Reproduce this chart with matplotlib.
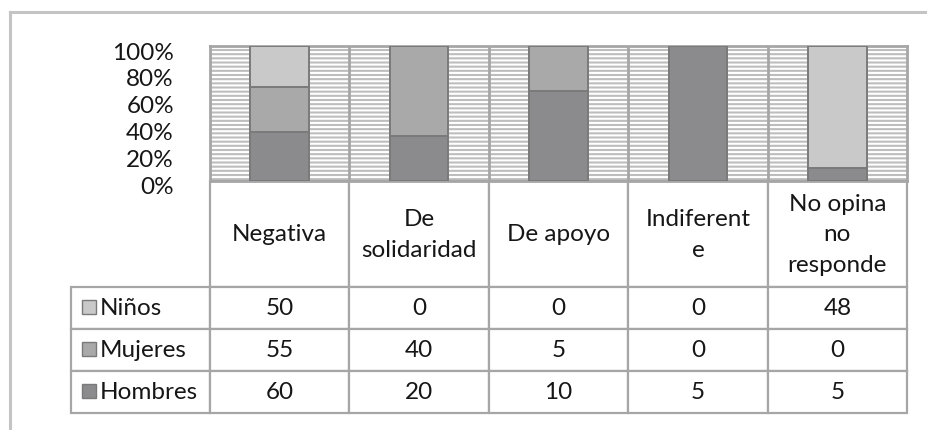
import numpy as np
import matplotlib.pyplot as plt
from matplotlib.patches import Rectangle
from matplotlib.lines import Line2D
from matplotlib.transforms import ScaledTranslation

# data
categories = ["Negativa", "De\nsolidaridad", "De apoyo", "Indiferent\ne", "No opina\nno\nresponde"]
series_names = ["Niños", "Mujeres", "Hombres"]
ninos = [50, 0, 0, 0, 48]
mujeres = [55, 40, 5, 0, 0]
hombres = [60, 20, 10, 5, 5]
y_ticks = [0, 20, 40, 60, 80, 100]

colors = {"Hombres": "#8b8b8d", "Mujeres": "#a9a9aa", "Niños": "#c9c9ca"}
edge = "#7a7a7a"
grid_c = "#a6a6a6"
txt_c = "#161616"
fs = 17.5

plt.rcParams['font.family'] = ['Lato', 'DejaVu Sans']
plt.rcParams['hatch.linewidth'] = 1.5
plt.rcParams['hatch.color'] = 'white'

fig = plt.figure(figsize=(9.27, 4.31), dpi=100)
W, H = 927, 431
ax = fig.add_axes([210 / W, 1 - 182 / H, 697 / W, 135 / H])

vals = np.array([hombres, mujeres, ninos], dtype=float)
pct = vals / vals.sum(axis=0) * 100
x = np.arange(len(categories))

# striped background
ax.add_patch(Rectangle((0, 0), 1, 1, transform=ax.transAxes, facecolor="#bdbdbd",
                       hatch="----", edgecolor="white", linewidth=0, zorder=0))

bottom = np.zeros(len(categories))
for name, row in zip(["Hombres", "Mujeres", "Niños"], pct):
    ax.bar(x, row, width=0.42, bottom=bottom, color=colors[name], edgecolor=edge,
           linewidth=1.4, zorder=3)
    bottom += row

ax.set_xlim(-0.5, len(categories) - 0.5)
ax.set_ylim(0, 100)
ax.set_yticks(y_ticks)
ax.set_yticklabels([f"{t}%" for t in y_ticks], fontsize=fs, color=txt_c)
ax.tick_params(axis='y', length=0, pad=26)
shift = ScaledTranslation(0, -4 / 100, fig.dpi_scale_trans)
for lab in ax.get_yticklabels():
    lab.set_transform(lab.get_transform() + shift)
ax.set_xticks([])
for b in np.arange(0.5, len(categories) - 0.5, 1):
    ax.axvline(b, color=grid_c, lw=2, zorder=2)
for s in ax.spines.values():
    s.set_color(grid_c)
    s.set_linewidth(2)

# data table below the chart (bbox covers the data cells, row labels hang left)
cell_text = [[str(v) for v in ninos], [str(v) for v in mujeres], [str(v) for v in hombres]]
tab = ax.table(cellText=cell_text, rowLabels=series_names, colLabels=categories,
               cellLoc='center', rowLoc='left', colLoc='center',
               bbox=[0, -232 / 135, 1, 232 / 135])
tab.auto_set_font_size(False)
for (r, c), cell in tab.get_celld().items():
    cell.set_edgecolor(grid_c)
    cell.set_linewidth(1.6)
    cell.get_text().set_fontsize(fs)
    cell.get_text().set_color(txt_c)
    cell.set_height(106 if r == 0 else 42)
    cell.set_width(143 if c == -1 else 139.4)
    if c == -1:
        cell.PAD = 30 / 143
    if r == 0:
        cell.get_text().set_linespacing(1.55)

fig.canvas.draw()
# legend keys inside row label cells
for i, name in enumerate(series_names):
    cell = tab[i + 1, -1]
    cx, cy, cw, ch = cell.get_x(), cell.get_y(), cell.get_width(), cell.get_height()
    sw = 14 / 697
    sh = 14 / 135
    ax.add_patch(Rectangle((cx + 11 / 697, cy + ch / 2 - sh / 2 + 1 / 135), sw, sh,
                           transform=ax.transAxes, facecolor=colors[name],
                           edgecolor=edge, linewidth=1, clip_on=False, zorder=5))

# outer frame
fig.add_artist(Line2D([10 / W, 10 / W], [0, 1 - 13 / H], transform=fig.transFigure,
                      color="#c4c4c4", lw=2.2))
fig.add_artist(Line2D([10 / W, 1], [1 - 13 / H, 1 - 13 / H], transform=fig.transFigure,
                      color="#c4c4c4", lw=2.2))

fig.savefig("out.png", dpi=100)
